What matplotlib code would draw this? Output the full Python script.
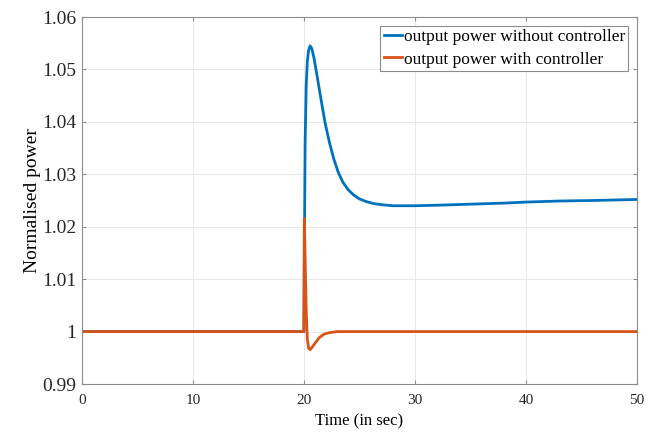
import matplotlib
matplotlib.use("Agg")
import matplotlib.pyplot as plt

plt.rcParams['font.family'] = ['Liberation Serif', 'DejaVu Serif']

# output power without controller (blue)
t_without = [0, 20.0, 20.05, 20.1, 20.2, 20.3, 20.4, 20.55, 20.7, 20.9, 21.2, 21.5,
             21.9, 22.3, 22.7, 23.1, 23.5, 24.0, 24.5, 25.0, 25.6, 26.3, 27.0,
             28.0, 30, 32, 35, 38, 40, 43, 46, 50]
p_without = [1.0, 1.0, 1.020, 1.036, 1.047, 1.0515, 1.0535, 1.0545, 1.0540, 1.0522,
             1.0485, 1.0447, 1.0398, 1.0360, 1.0328, 1.0303, 1.0285, 1.0270, 1.0260,
             1.0253, 1.0248, 1.0244, 1.0242, 1.0240, 1.0240, 1.0241, 1.0243,
             1.0245, 1.0247, 1.0249, 1.0250, 1.0252]

# output power with controller (orange)
t_with = [0, 19.98, 20.03, 20.12, 20.2, 20.3, 20.42, 20.55, 20.7, 21.0, 21.4, 21.8,
          22.3, 23.0, 24.0, 50]
p_with = [1.0, 1.0, 1.0216, 1.012, 1.004, 0.9985, 0.9968, 0.99655, 0.9969, 0.9978,
          0.9989, 0.9995, 0.9998, 1.0, 1.0, 1.0]

x_ticks = [0, 10, 20, 30, 40, 50]
y_ticks = [0.99, 1.0, 1.01, 1.02, 1.03, 1.04, 1.05, 1.06]
y_labels = ['0.99', '1', '1.01', '1.02', '1.03', '1.04', '1.05', '1.06']

blue = '#0072BD'
orange = '#D95319'
spine_col = '#8c8c8c'

fig = plt.figure(figsize=(6.56, 4.33), dpi=100)
ax = fig.add_axes([82 / 656, 49 / 433, 555 / 656, 367 / 433])

ax.plot(t_without, p_without, color=blue, lw=2.0, label='output power without controller')
ax.plot(t_with, p_with, color=orange, lw=2.0, label='output power with controller')

ax.set_xlim(0, 50)
ax.set_ylim(0.99, 1.06)
ax.set_xticks(x_ticks)
ax.set_xticklabels([str(v) for v in x_ticks], fontsize=11)
ax.set_yticks(y_ticks)
ax.set_yticklabels(y_labels, fontsize=14, color='#262626')

ax.grid(True, color='#e8e8e8', lw=0.7)
ax.set_axisbelow(True)
for s in ax.spines.values():
    s.set_color(spine_col)
    s.set_linewidth(0.8)
ax.tick_params(direction='in', length=3, color=spine_col, top=True, right=True)
ax.tick_params(axis='y', pad=4)
ax.tick_params(axis='x', pad=7, labelcolor='#262626')

ax.set_xlabel('Time (in sec)', fontsize=12, labelpad=5)
ax.set_ylabel('Normalised power', fontsize=14, labelpad=1)

leg = ax.legend(loc='upper right', fontsize=12.5, fancybox=False, framealpha=1,
                edgecolor=spine_col, borderpad=0.2, labelspacing=0.35,
                handlelength=1.05, handletextpad=0.1, borderaxespad=0.5)
leg.get_frame().set_linewidth(0.8)

fig.savefig('out.png', dpi=100)
